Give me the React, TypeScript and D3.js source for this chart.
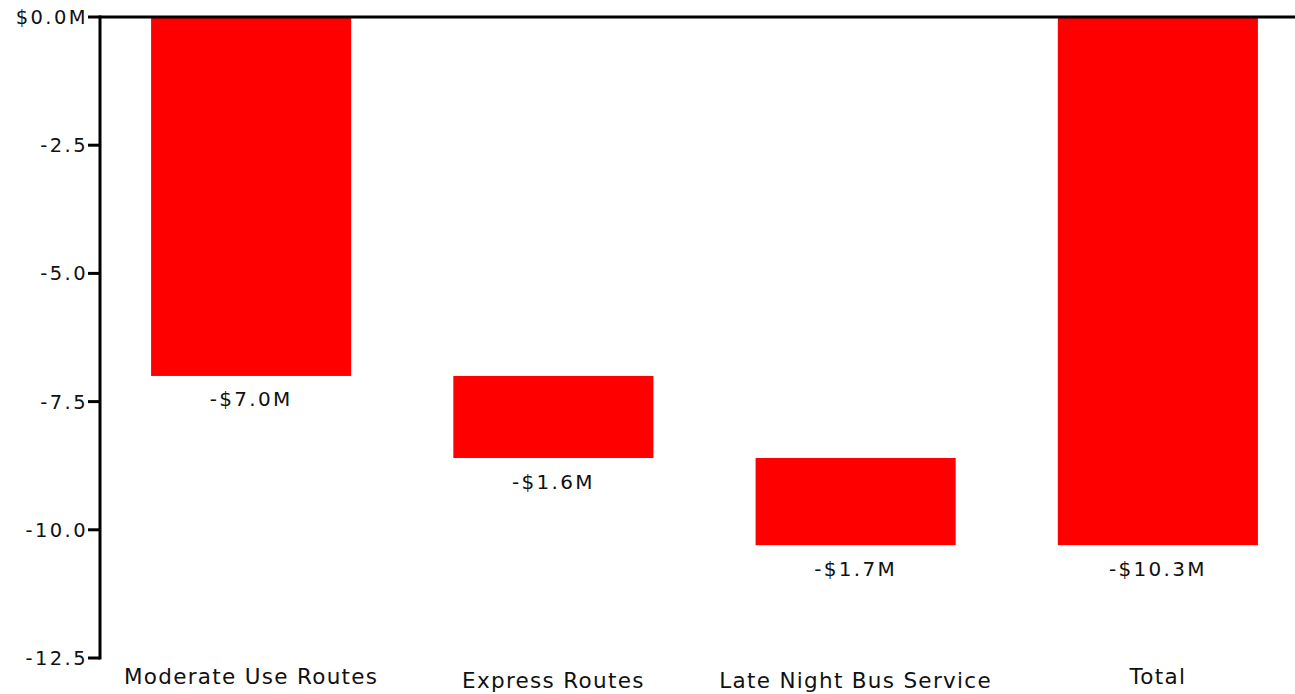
import React from "react";
import * as d3 from "d3";

const categories = ["Moderate Use Routes", "Express Routes", "Late Night Bus Service", "Total"];
const values = [-7.0, -1.6, -1.7, -10.3];
const isTotal = [false, false, false, true];
const yTicks = [0, -2.5, -5.0, -7.5, -10.0, -12.5];

const W = 1295;
const H = 694;

export default function App() {
  const y = d3.scaleLinear().domain([0, -12.5]).range([17, 658]);
  const x = d3
    .scaleBand<string>()
    .domain(categories)
    .range([100, 1309])
    .paddingInner(0.338)
    .paddingOuter(0.169);

  let running = 0;
  const bars = categories.map((c, i) => {
    const v = values[i];
    let start: number, end: number;
    if (isTotal[i]) {
      start = 0;
      end = v;
    } else {
      start = running;
      end = running + v;
      running = end;
    }
    return { c, v, start, end };
  });

  const font = "'DejaVu Sans', Verdana, sans-serif";
  const f1 = (n: number) => (n < 0 ? "-" : "") + Math.abs(n).toFixed(1);
  const fmtTick = (t: number) => (t === 0 ? "$0.0M" : f1(t));
  const fmtVal = (v: number) => (v < 0 ? "-$" : "$") + Math.abs(v).toFixed(1) + "M";

  return (
    <svg
      width={W}
      height={H}
      style={{ position: "absolute", left: 0, top: 0, background: "#fff" }}
      fontFamily={font}
    >
      {bars.map((b) => {
        const x0 = x(b.c)!;
        const top = y(Math.max(b.start, b.end));
        const bot = y(Math.min(b.start, b.end));
        return (
          <g key={b.c}>
            <rect x={x0} y={top} width={x.bandwidth()} height={bot - top} fill="#ff0000" />
            <text
              x={x0 + x.bandwidth() / 2}
              y={bot + 30.5}
              textAnchor="middle"
              fontSize={20}
              letterSpacing={2.3}
              fill="#111"
            >
              {fmtVal(b.v)}
            </text>
            <text
              x={x0 + x.bandwidth() / 2}
              y={683.5 + (/[gjpqy]/.test(b.c) ? 4.5 : 0)}
              textAnchor="middle"
              fontSize={21.5}
              letterSpacing={1.3}
              fill="#111"
            >
              {b.c}
            </text>
          </g>
        );
      })}
      {/* top axis line */}
      <line x1={100} x2={W} y1={y(0)} y2={y(0)} stroke="#000" strokeWidth={3} />
      {/* y axis */}
      <line x1={100} x2={100} y1={y(0) - 1.5} y2={y(-12.5) + 1.5} stroke="#000" strokeWidth={3} />
      {yTicks.map((t) => (
        <g key={t}>
          <line x1={88} x2={100} y1={y(t)} y2={y(t)} stroke="#000" strokeWidth={3} />
          <text
            x={88}
            y={y(t) + 7}
            textAnchor="end"
            fontSize={19.5}
            letterSpacing={2.4}
            fill="#111"
          >
            {fmtTick(t)}
          </text>
        </g>
      ))}
    </svg>
  );
}
